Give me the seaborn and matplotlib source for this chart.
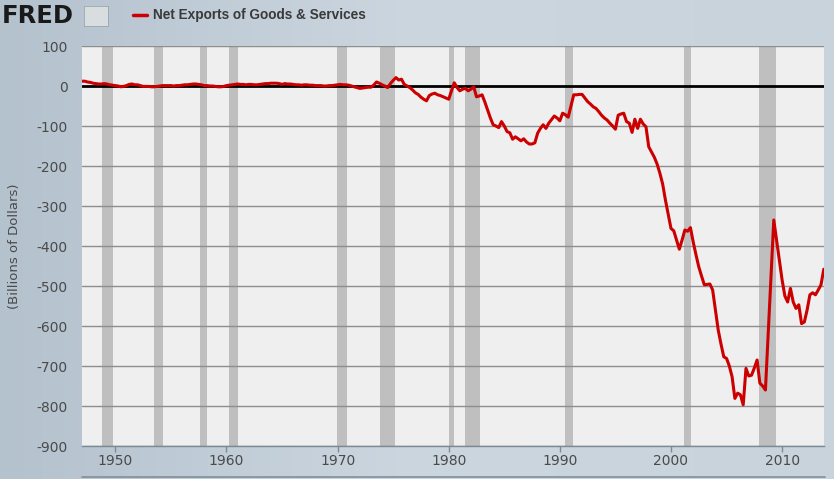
import numpy as np
import pandas as pd
import matplotlib
matplotlib.use("Agg")
import matplotlib.pyplot as plt
from matplotlib.lines import Line2D
from matplotlib.colors import LinearSegmentedColormap
import seaborn as sns

# ---- data (quarterly, billions of dollars, 1947Q1 .. 2013Q4) ----
first_year = 1947
net_exports = [
    12, 12, 10, 9,        # 1947
    7, 6, 5, 5,           # 1948
    6, 5, 3, 2,           # 1949
    1, 0, -2, -1,         # 1950
    1, 4, 5, 3,           # 1951
    3, 1, -1, -1,         # 1952
    -1, -2, -2, -1,       # 1953
    0, 1, 1, 1,           # 1954
    1, 0, 1, 1,           # 1955
    2, 3, 3, 4,           # 1956
    5, 5, 4, 3,           # 1957
    1, 1, 0, 0,           # 1958
    -1, -2, -2, -1,       # 1959
    1, 2, 3, 4,           # 1960
    5, 4, 4, 3,           # 1961
    4, 4, 3, 3,           # 1962
    4, 5, 6, 6,           # 1963
    7, 7, 7, 6,           # 1964
    4, 6, 5, 5,           # 1965
    4, 3, 3, 2,           # 1966
    3, 3, 2, 2,           # 1967
    1, 1, 1, 0,           # 1968
    0, 1, 1, 2,           # 1969
    3, 4, 3, 3,           # 1970
    2, 0, -2, -4,         # 1971
    -6, -5, -4, -3,       # 1972
    -3, 2, 10, 7,         # 1973
    3, 0, -4, 6,          # 1974
    14, 21, 15, 17,       # 1975
    4, 0, -4, -10,        # 1976
    -17, -21, -28, -33,   # 1977
    -37, -24, -20, -18,   # 1978
    -22, -24, -27, -30,   # 1979
    -33, -12, 8, -4,      # 1980
    -12, -8, -6, -12,     # 1981
    -8, -2, -27, -25,     # 1982
    -22, -40, -60, -80,   # 1983
    -97, -100, -104, -89, # 1984
    -100, -114, -117, -133,  # 1985
    -127, -132, -137, -132,  # 1986
    -140, -145, -145, -142,  # 1987
    -118, -106, -97, -106,   # 1988
    -93, -84, -75, -80,      # 1989
    -87, -68, -72, -78,      # 1990
    -50, -22, -22, -21,      # 1991
    -21, -30, -39, -45,      # 1992
    -52, -56, -64, -73,      # 1993
    -80, -85, -93, -100,     # 1994
    -108, -73, -70, -68,     # 1995
    -89, -93, -116, -83,     # 1996
    -106, -83, -95, -102,    # 1997
    -152, -165, -178, -195,  # 1998
    -218, -245, -285, -320,  # 1999
    -356, -362, -385, -408,  # 2000
    -385, -360, -363, -354,  # 2001
    -390, -422, -452, -475,  # 2002
    -497, -496, -495, -510,  # 2003
    -560, -610, -645, -677,  # 2004
    -681, -700, -727, -781,  # 2005
    -768, -772, -797, -706,  # 2006
    -725, -723, -705, -685,  # 2007
    -743, -750, -760, -620,  # 2008
    -480, -335, -385, -435,  # 2009
    -485, -525, -540, -506,  # 2010
    -540, -556, -547, -594,  # 2011
    -590, -560, -522, -517,  # 2012
    -522, -510, -497, -458,  # 2013
]

# NBER recessions (decimal years)
recession_starts = [1948.83, 1953.50, 1957.58, 1960.25, 1969.92, 1973.83,
                    1980.00, 1981.50, 1990.50, 2001.17, 2007.92]
recession_ends = [1949.75, 1954.33, 1958.25, 1961.08, 1970.83, 1975.17,
                  1980.50, 1982.83, 1991.17, 2001.83, 2009.42]

x_ticks = [1950, 1960, 1970, 1980, 1990, 2000, 2010]
y_ticks = [100, 0, -100, -200, -300, -400, -500, -600, -700, -800, -900]

series_label = "Net Exports of Goods & Services"
y_label = "(Billions of Dollars)"

# ---- build frame ----
dates = pd.date_range(f"{first_year}-01-01", periods=len(net_exports), freq="QS")
df = pd.DataFrame({
    "year": dates.year + (dates.month - 1) / 12.0,
    "value": net_exports,
})

# ---- style ----
sns.set_theme(style="white")
plt.rcParams["font.family"] = ["DejaVu Sans"]

fig = plt.figure(figsize=(8.34, 4.79), dpi=100)
fig.patch.set_facecolor("#c4d0da")

# subtle background gradient
bg = fig.add_axes([0, 0, 1, 1], zorder=-10)
grad = np.linspace(0, 1, 256).reshape(1, -1)
grad = np.vstack([grad] * 2)
cmap = LinearSegmentedColormap.from_list("bg", ["#b4c2ce", "#ccd6df", "#c8d3dc"])
bg.imshow(grad, aspect="auto", cmap=cmap, extent=[0, 1, 0, 1])
bg.set_axis_off()

ax = fig.add_axes([82 / 834, 33 / 479, 742 / 834, 400 / 479])
ax.set_facecolor("#efefef")

for s, e in zip(recession_starts, recession_ends):
    ax.axvspan(s, e, color="#bfbfbf", lw=0, zorder=1)

for yv in y_ticks:
    if yv == 0:
        continue
    ax.axhline(yv, color="#8e8e8e", lw=1.0, zorder=2)
ax.axhline(0, color="black", lw=2.0, zorder=3)

sns.lineplot(data=df, x="year", y="value", ax=ax, color="#cc0000",
             lw=2.2, zorder=4, legend=False)

ax.set_xlim(df["year"].iloc[0], df["year"].iloc[-1] + 0.02)
ax.set_ylim(-900, 100)
ax.set_xticks(x_ticks)
ax.set_xticklabels([str(t) for t in x_ticks])
ax.set_yticks(y_ticks)
ax.set_yticklabels([str(t) for t in y_ticks])
ax.tick_params(axis="x", colors="#4a4a4a", labelsize=10, length=4,
               width=1, direction="out", pad=2, bottom=True)
ax.tick_params(axis="x", color="#7a8a96")
ax.tick_params(axis="y", colors="#4a4a4a", labelsize=10, length=0, pad=10.5)
ax.set_xlabel("")
ax.set_ylabel(y_label, color="#4a4a4a", fontsize=9.5, labelpad=11)
for side in ["top", "right", "left"]:
    ax.spines[side].set_visible(False)
ax.spines["bottom"].set_color("#7a8a96")
ax.spines["bottom"].set_linewidth(1)
ax.grid(False)

# header: FRED logo text + legend
fig.text(2 / 834, 1 - 16 / 479, "FRED", fontsize=17.5, fontweight="heavy",
         family=["DejaVu Sans"],
         color="#1a1a1a", va="center", ha="left")
icon = fig.add_axes([84 / 834, 1 - 26 / 479, 24 / 834, 20 / 479])
icon.set_facecolor("#d8dde0")
icon.set_xticks([])
icon.set_yticks([])
for sp in icon.spines.values():
    sp.set_color("#9aa5ad")
    sp.set_linewidth(0.6)
fig.add_artist(Line2D([133 / 834, 147 / 834], [1 - 15 / 479, 1 - 15 / 479],
                      color="#cc0000", lw=2.5))
fig.text(153 / 834, 1 - 15 / 479, series_label, fontsize=9.8,
         fontweight="bold", family=["Liberation Sans", "DejaVu Sans"],
         color="#3a3a3a", va="center", ha="left")

# top of range selector strip
fig.add_artist(Line2D([82 / 834, 825 / 834], [1 - 477 / 479, 1 - 477 / 479],
                      color="#7f8f9b", lw=1.2))

fig.savefig("out.png", dpi=100, facecolor=fig.get_facecolor())
